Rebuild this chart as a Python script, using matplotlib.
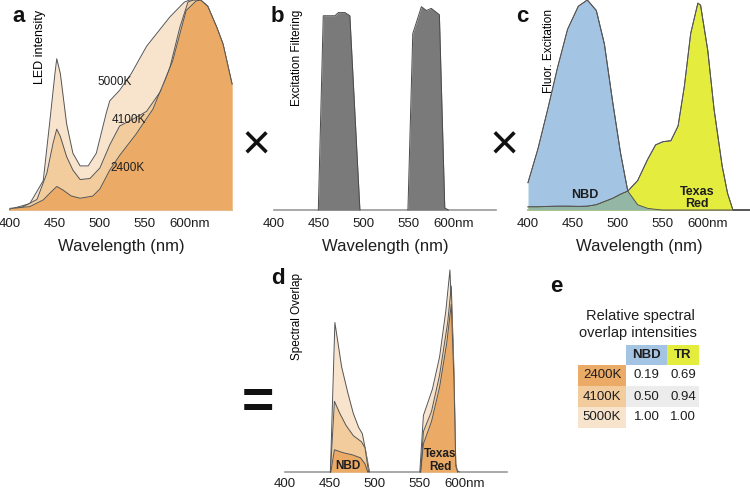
import numpy as np
import matplotlib
matplotlib.use('Agg')
import matplotlib.pyplot as plt
from matplotlib.patches import Rectangle

plt.rcParams['font.family'] = ['Liberation Sans', 'DejaVu Sans']

# ---- data ----
tick_pos = [400, 450, 500, 550, 600]
tick_labels = ['400', '450', '500', '550', '600nm']

# a: LED spectra (relative intensity); all three share the long-wavelength tail
tail_wl = [612, 620, 630, 637, 647]
tail_val = [1.0, 0.97, 0.87, 0.79, 0.60]

led_2400_wl = [400, 422, 437, 446, 452, 459, 468, 478, 492, 500, 511, 522, 540, 559, 581, 596, 607]
led_2400 = [0.008, 0.016, 0.048, 0.087, 0.112, 0.095, 0.067, 0.056, 0.066, 0.1, 0.19, 0.26, 0.36, 0.48, 0.71, 0.95, 0.995]

led_4100_wl = [400, 411, 430, 441, 448, 452, 456, 463, 470, 478, 489, 500, 511, 522, 540, 552, 570, 578, 589, 598, 604]
led_4100 = [0.004, 0.008, 0.05, 0.175, 0.32, 0.385, 0.35, 0.254, 0.19, 0.145, 0.15, 0.2, 0.31, 0.4, 0.44, 0.47, 0.58, 0.68, 0.87, 0.99, 1.0]

led_5000_wl = [400, 422, 437, 444, 450, 452, 456, 463, 470, 478, 487, 496, 507, 511, 522, 535, 552, 578, 594, 600, 606]
led_5000 = [0.004, 0.03, 0.14, 0.41, 0.65, 0.72, 0.65, 0.41, 0.27, 0.21, 0.21, 0.27, 0.46, 0.52, 0.57, 0.65, 0.78, 0.92, 0.99, 1.0, 1.0]

# b: excitation filter transmission (two bands)
filt1_wl = [449.3, 454.8, 467.8, 471.5, 479, 484.4, 495.6]
filt1 = [0.0, 0.925, 0.925, 0.94, 0.94, 0.925, 0.0]
filt2_wl = [549, 554.4, 564, 569.6, 575, 584, 590, 594]
filt2 = [0.0, 0.84, 0.968, 0.95, 0.96, 0.93, 0.01, 0.0]

# c: fluorophore excitation spectra
fl_wl = [400, 411, 422, 433, 444, 456, 466, 476, 485, 494, 503, 511, 522, 533, 542,
         550, 559, 567, 574, 581, 589, 592, 600, 607, 616, 622, 628, 647]
nbd = [0.13, 0.29, 0.48, 0.68, 0.86, 0.97, 1.0, 0.95, 0.79, 0.52, 0.27, 0.09, 0.025, 0.008, 0.003,
       0, 0, 0, 0, 0, 0, 0, 0, 0, 0, 0, 0, 0]
texas_red = [0.015, 0.015, 0.017, 0.018, 0.018, 0.017, 0.018, 0.025, 0.04, 0.055, 0.075, 0.09, 0.14, 0.24, 0.31,
             0.325, 0.33, 0.40, 0.59, 0.84, 0.985, 0.975, 0.76, 0.48, 0.21, 0.08, 0.0, 0.0]

# d: spectral overlap (product), per LED temperature
ov_nbd_5000_wl = [450.5, 455.5, 463, 470, 476, 482, 486, 490, 494]
ov_nbd_5000 = [0.0, 0.74, 0.52, 0.39, 0.29, 0.22, 0.19, 0.10, 0.0]
ov_nbd_4100_wl = [450.5, 455, 461, 468, 476, 485, 489, 493]
ov_nbd_4100 = [0.0, 0.35, 0.29, 0.23, 0.18, 0.15, 0.12, 0.0]
ov_nbd_2400_wl = [451, 455, 465, 475, 484, 489, 492]
ov_nbd_2400 = [0.0, 0.11, 0.095, 0.085, 0.07, 0.04, 0.0]

ov_tr_5000_wl = [550, 554, 564, 572, 579, 583.5, 587, 589, 591, 594]
ov_tr_5000 = [0.0, 0.28, 0.41, 0.57, 0.80, 1.0, 0.62, 0.06, 0.01, 0.0]
ov_tr_4100_wl = [551, 554, 563, 572, 581, 585, 588, 590, 592]
ov_tr_4100 = [0.0, 0.2, 0.3, 0.48, 0.74, 0.92, 0.5, 0.04, 0.0]
ov_tr_2400_wl = [551, 554, 563, 572, 580, 585, 588, 590, 592]
ov_tr_2400 = [0.0, 0.14, 0.25, 0.42, 0.64, 0.83, 0.45, 0.03, 0.0]

# e: relative spectral overlap table
temps = ['2400K', '4100K', '5000K']
rel_nbd = [0.19, 0.50, 1.00]
rel_tr = [0.69, 0.94, 1.00]

# ---- colours ----
c2400, c4100, c5000 = '#ebab67', '#f2cc9d', '#f8e4cc'
edge = '#555555'
blue, yellow, green = '#a3c4e3', '#e4ec3e', '#92b7a4'
grey = '#7a7a7a'
ink = '#1e1e1e'

W, H = 750, 492
fig = plt.figure(figsize=(7.5, 4.92), dpi=100)


def box(left, top, width, height):
    return [left / W, 1 - (top + height) / H, width / W, height / H]


def style(ax, xlabel=True, pad=6):
    ax.set_xlim(400, 647)
    ax.set_ylim(0, 1)
    for s in ['top', 'right', 'left']:
        ax.spines[s].set_visible(False)
    ax.spines['bottom'].set_color('#9a9a9a')
    ax.spines['bottom'].set_linewidth(1.2)
    ax.spines['bottom'].set_zorder(0.5)
    ax.set_yticks([])
    ax.set_xticks(tick_pos)
    ax.set_xticklabels(tick_labels, fontsize=9.5, color=ink)
    ax.tick_params(axis='x', length=0, pad=pad)
    if xlabel:
        ax.set_xlabel('Wavelength (nm)', fontsize=12, labelpad=6, color=ink)
    ax.patch.set_alpha(0)


def area(ax, x, y, color, z):
    ax.fill_between(x, y, 0, color=color, lw=0, zorder=z)
    ax.plot(x, y, color=edge, lw=0.7, zorder=z + 0.1, clip_on=False)


def ftext(x, y, s, **kw):
    fig.text(x / W, 1 - y / H, s, **kw)


# ---- a ----
ax_a = fig.add_axes(box(10, 0, 222, 210))
style(ax_a)
area(ax_a, led_5000_wl + tail_wl, led_5000 + tail_val, c5000, 1)
area(ax_a, led_4100_wl + tail_wl, led_4100 + tail_val, c4100, 2)
area(ax_a, led_2400_wl + tail_wl, led_2400 + tail_val, c2400, 3)
ax_a.text(0.136, 0.955, 'LED intensity', transform=ax_a.transAxes, rotation=90,
          ha='center', va='top', fontsize=9)
for lbl, (x, y) in zip(['5000K', '4100K', '2400K'], [(115, 82), (129, 120), (128, 168)]):
    ax_a.text((x - 10) / 222, 1 - y / 210, lbl, transform=ax_a.transAxes,
              ha='center', va='center', fontsize=8.5, color=ink, zorder=5)

# ---- b ----
ax_b = fig.add_axes(box(274, 0, 222, 210))
style(ax_b)
for x, y in [(filt1_wl, filt1), (filt2_wl, filt2)]:
    ax_b.fill_between(x, y, 0, color=grey, lw=0, zorder=2)
    ax_b.plot(x, y, color='#4a4a4a', lw=0.7, zorder=3, clip_on=False)
ax_b.text(0.104, 0.955, 'Excitation Filtering', transform=ax_b.transAxes, rotation=90,
          ha='center', va='top', fontsize=8.5)

# ---- c ----
ax_c = fig.add_axes(box(528, 0, 222, 210))
style(ax_c)
area(ax_c, fl_wl, nbd, blue, 1)
area(ax_c, fl_wl, texas_red, yellow, 2)
ax_c.fill_between(fl_wl, np.minimum(nbd, texas_red), 0, color=green, lw=0, zorder=3)
ax_c.plot(fl_wl, nbd, color=edge, lw=0.7, zorder=4, clip_on=False)
ax_c.plot(fl_wl, texas_red, color=edge, lw=0.7, zorder=4, clip_on=False)
ax_c.text(0.095, 0.955, 'Fluor. Excitation', transform=ax_c.transAxes, rotation=90,
          ha='center', va='top', fontsize=8.5)
ftext(585, 195, 'NBD', ha='center', va='center', fontsize=9, fontweight='bold', color=ink)
ftext(697, 192, 'Texas', ha='center', va='center', fontsize=9, fontweight='bold', color=ink)
ftext(697, 204, 'Red', ha='center', va='center', fontsize=9, fontweight='bold', color=ink)

# ---- d ----
ax_d = fig.add_axes(box(285, 270, 222, 202))
style(ax_d, xlabel=False, pad=4)
area(ax_d, ov_nbd_5000_wl, ov_nbd_5000, c5000, 1)
area(ax_d, ov_nbd_4100_wl, ov_nbd_4100, c4100, 2)
area(ax_d, ov_nbd_2400_wl, ov_nbd_2400, c2400, 3)
area(ax_d, ov_tr_5000_wl, ov_tr_5000, c5000, 1)
area(ax_d, ov_tr_4100_wl, ov_tr_4100, c4100, 2)
area(ax_d, ov_tr_2400_wl, ov_tr_2400, c2400, 3)
ax_d.text(0.054, 0.985, 'Spectral Overlap', transform=ax_d.transAxes, rotation=90,
          ha='center', va='top', fontsize=8.5)
ftext(348, 466, 'NBD', ha='center', va='center', fontsize=8.5, fontweight='bold', color=ink, zorder=10)
ftext(440, 454, 'Texas', ha='center', va='center', fontsize=8.5, fontweight='bold', color=ink, zorder=10)
ftext(440, 467, 'Red', ha='center', va='center', fontsize=8.5, fontweight='bold', color=ink, zorder=10)

# ---- panel letters and operators ----
for s, (x, y) in zip('abcde', [(19, 17), (277, 16), (522, 17), (278, 278), (556, 286)]):
    ftext(x, y, s, ha='center', va='center', fontsize=16, fontweight='bold', color='#111111')
ftext(256, 147, '×', ha='center', va='center', fontsize=36, color='#111111')
ftext(504, 147, '×', ha='center', va='center', fontsize=36, color='#111111')
ftext(258, 404, '=', ha='center', va='center', fontsize=40, fontweight='bold', color='#111111')

# ---- e: table ----
ax_e = fig.add_axes([0, 0, 1, 1])
ax_e.set_xlim(0, W)
ax_e.set_ylim(H, 0)
ax_e.axis('off')
ax_e.patch.set_alpha(0)
ax_e.text(640, 316, 'Relative spectral', ha='center', va='center', fontsize=10.5, color=ink)
ax_e.text(638, 333, 'overlap intensities', ha='center', va='center', fontsize=10.5, color=ink)
col_x = [578, 626, 667, 699]
row_y = [345, 365, 386, 407, 428]
ax_e.add_patch(Rectangle((col_x[1], row_y[0]), col_x[2] - col_x[1], row_y[1] - row_y[0], color=blue, lw=0))
ax_e.add_patch(Rectangle((col_x[2], row_y[0]), col_x[3] - col_x[2], row_y[1] - row_y[0], color=yellow, lw=0))
ax_e.text((col_x[1] + col_x[2]) / 2, (row_y[0] + row_y[1]) / 2, 'NBD', ha='center', va='center',
          fontsize=9.5, fontweight='bold', color=ink)
ax_e.text((col_x[2] + col_x[3]) / 2, (row_y[0] + row_y[1]) / 2, 'TR', ha='center', va='center',
          fontsize=9.5, fontweight='bold', color=ink)
for i, (t, vn, vt, col) in enumerate(zip(temps, rel_nbd, rel_tr, [c2400, c4100, c5000])):
    y0, y1 = row_y[i + 1], row_y[i + 2]
    ax_e.add_patch(Rectangle((col_x[0], y0), col_x[1] - col_x[0], y1 - y0, color=col, lw=0))
    if i == 1:
        ax_e.add_patch(Rectangle((col_x[1], y0), col_x[3] - col_x[1], y1 - y0, color='#ececec', lw=0))
    yc = (y0 + y1) / 2
    ax_e.text((col_x[0] + col_x[1]) / 2, yc, t, ha='center', va='center', fontsize=9.5, color=ink)
    ax_e.text((col_x[1] + col_x[2]) / 2, yc, f'{vn:.2f}', ha='center', va='center', fontsize=9.5, color=ink)
    ax_e.text((col_x[2] + col_x[3]) / 2, yc, f'{vt:.2f}', ha='center', va='center', fontsize=9.5, color=ink)

fig.savefig('out.png', dpi=100)
